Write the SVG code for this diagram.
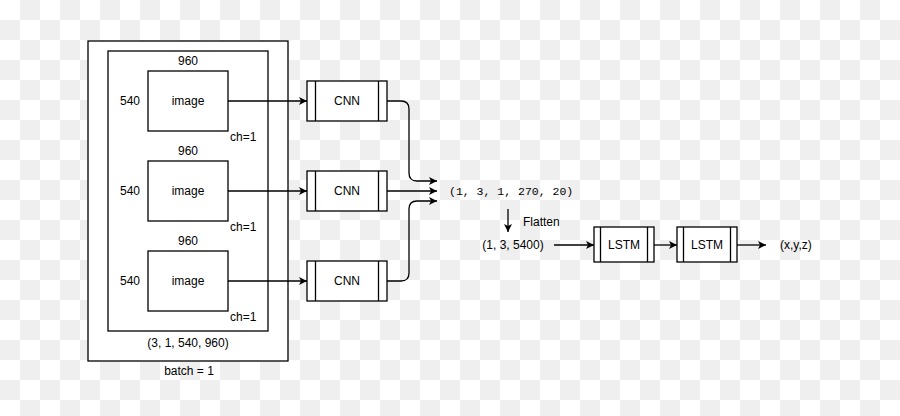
<svg xmlns="http://www.w3.org/2000/svg" width="900" height="416" viewBox="0 0 900 416">
<defs>
<pattern id="checker" width="40" height="40" patternUnits="userSpaceOnUse">
<rect width="40" height="40" fill="#ffffff"/>
<rect x="20" y="0" width="20" height="20" fill="#efefef"/>
<rect x="0" y="20" width="20" height="20" fill="#efefef"/>
</pattern>
<marker id="arr" viewBox="0 0 10 10" refX="10" refY="5" markerWidth="8" markerHeight="8" markerUnits="userSpaceOnUse" orient="auto">
<path d="M0,0 L10,5 L0,10 L2.5,5 Z" fill="#000"/>
</marker>
</defs>
<style>
.box{fill:#fff;stroke:#000;stroke-width:1.3}
.ln{fill:none;stroke:#000;stroke-width:1.3}
.edge{fill:none;stroke:#000;stroke-width:1.3;marker-end:url(#arr)}
text{font-family:"Liberation Sans",Arial,sans-serif;font-size:12px;fill:#000}
.mid{text-anchor:middle}
.mono{font-family:"Liberation Mono","Courier New",monospace;font-size:11.5px}
</style>
<rect width="900" height="416" fill="url(#checker)"/>

<g id="batch">
<rect class="box" x="88" y="41" width="200" height="320"/>
<text class="mid" x="189" y="375">batch = 1</text>
</g>
<g id="tensor">
<rect class="box" x="108" y="51" width="160" height="280"/>
<text class="mid" x="188" y="347">(3, 1, 540, 960)</text>
</g>
<g id="image1">
<rect class="box" x="148" y="71" width="80" height="60"/>
<text class="mid" x="188" y="105">image</text>
<text class="mid" x="188" y="65">960</text>
<text class="mid" x="130" y="105">540</text>
<text x="230" y="141">ch=1</text>
</g>
<g id="image2">
<rect class="box" x="148" y="161" width="80" height="60"/>
<text class="mid" x="188" y="195">image</text>
<text class="mid" x="188" y="155">960</text>
<text class="mid" x="130" y="195">540</text>
<text x="230" y="231">ch=1</text>
</g>
<g id="image3">
<rect class="box" x="148" y="251" width="80" height="60"/>
<text class="mid" x="188" y="285">image</text>
<text class="mid" x="188" y="245">960</text>
<text class="mid" x="130" y="285">540</text>
<text x="230" y="321">ch=1</text>
</g>

<g id="cnn1">
<rect class="box" x="307" y="81" width="80" height="40"/>
<path class="ln" d="M315.5,81V121M378.5,81V121"/>
<text class="mid" x="347" y="105">CNN</text>
</g>
<g id="cnn2">
<rect class="box" x="307" y="171" width="80" height="40"/>
<path class="ln" d="M315.5,171V211M378.5,171V211"/>
<text class="mid" x="347" y="195">CNN</text>
</g>
<g id="cnn3">
<rect class="box" x="307" y="261" width="80" height="40"/>
<path class="ln" d="M315.5,261V301M378.5,261V301"/>
<text class="mid" x="347" y="285">CNN</text>
</g>

<g id="features">
<text class="mono" x="449" y="195">(1, 3, 1, 270, 20)</text>
</g>
<g id="flat">
<text class="mid" x="513" y="249">(1, 3, 5400)</text>
</g>
<g id="lstm1">
<rect class="box" x="594" y="227" width="60" height="35"/>
<path class="ln" d="M600.5,227V262M647.5,227V262"/>
<text class="mid" x="624" y="249">LSTM</text>
</g>
<g id="lstm2">
<rect class="box" x="677" y="227" width="60" height="35"/>
<path class="ln" d="M683.5,227V262M730.5,227V262"/>
<text class="mid" x="707" y="249">LSTM</text>
</g>
<g id="output">
<text x="780" y="249">(x,y,z)</text>
</g>

<g id="connectors">
<path class="edge" d="M228,101H307"/>
<path class="edge" d="M228,191H307"/>
<path class="edge" d="M228,281H307"/>
<path class="edge" d="M387,101H401Q409,101 409,109V173Q409,181 417,181H437"/>
<path class="edge" d="M387,191H437"/>
<path class="edge" d="M387,281H401Q409,281 409,273V209Q409,201 417,201H437"/>
<path class="edge" d="M508,209V232"/>
<text x="523" y="226">Flatten</text>
<path class="edge" d="M554,245H594"/>
<path class="edge" d="M654,245H677"/>
<path class="edge" d="M737,245H766"/>
</g>
</svg>
